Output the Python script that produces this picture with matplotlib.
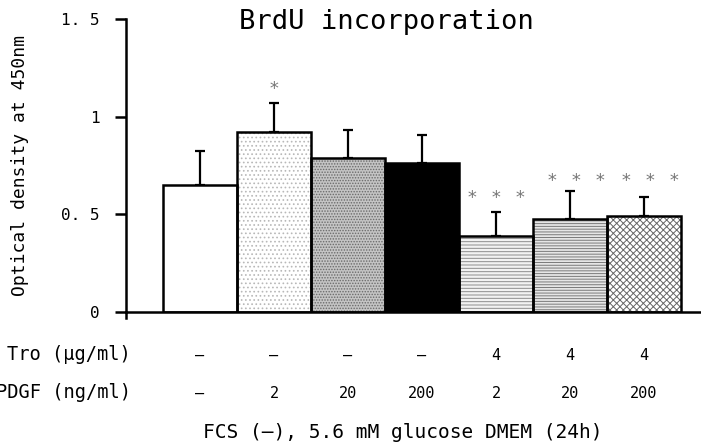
import matplotlib
matplotlib.use("Agg")
import matplotlib.pyplot as plt
import matplotlib.transforms as mtrans
import numpy as np

# data
groups = ['ctrl', 'P2', 'P20', 'P200', 'T4P2', 'T4P20', 'T4P200']
od_mean = [0.65, 0.92, 0.79, 0.765, 0.39, 0.475, 0.49]
od_sd = [0.175, 0.15, 0.14, 0.14, 0.12, 0.145, 0.10]
n_stars = [0, 1, 0, 0, 3, 3, 3]
tro_labels = ['\u2013', '\u2013', '\u2013', '\u2013', '4', '4', '4']
pdgf_labels = ['\u2013', '2', '20', '200', '2', '20', '200']
yticks = [0, 0.5, 1, 1.5]
ytick_labels = ['0', '0. 5', '1', '1. 5']

plt.rcParams['font.family'] = ['DejaVu Sans Mono', 'DejaVu Sans']
plt.rcParams['hatch.linewidth'] = 0.7

fig = plt.figure(figsize=(7.01, 4.47), dpi=100)
ax = fig.add_axes([126/701, 135/447, 575/701, 293/447])

# fill + hatch style per bar (face, hatch, hatch colour)
styles = [('white', None, 'black'),
          ('white', '....', '#b8b8b8'),
          ('#c4c4c4', '......', '#6a6a6a'),
          ('black', None, 'black'),
          ('#f2f2f2', '-----', '#8c8c8c'),
          ('#e6e6e6', '------', '#7a7a7a'),
          ('white', 'xxxxx', '#666666')]

x = np.arange(len(groups))
for i in range(len(groups)):
    face, hatch, hc = styles[i]
    ax.bar(x[i], od_mean[i], width=1.0, color=face, hatch=hatch,
           edgecolor=hc, linewidth=0, zorder=2)
    ax.bar(x[i], od_mean[i], width=1.0, fill=False, edgecolor='black',
           linewidth=1.8, zorder=3)

ax.errorbar(x, od_mean, yerr=[np.zeros(len(od_sd)), od_sd], fmt='none',
            ecolor='black', elinewidth=1.6, capsize=3.5, capthick=1.6, zorder=1)

# significance stars
for i, n in enumerate(n_stars):
    top = od_mean[i] + od_sd[i]
    if n == 1:
        ax.text(x[i], top + 0.07, '*', ha='center', va='center',
                fontsize=13, color='#777777')
    elif n == 3:
        yy = 0.585 if i == 4 else 0.672
        off = 0.0 if i == 4 else 0.08
        for d in (-0.32, 0.0, 0.32):
            ax.text(x[i] + d + off, yy, '*', ha='center', va='center',
                    fontsize=13, color='#777777')

ax.set_xlim(-1.0, 6.77)
ax.set_ylim(0, 1.5)
ax.set_yticks(yticks)
ax.set_yticklabels(ytick_labels, fontsize=11.5)
ax.tick_params(axis='y', direction='out', length=8, width=1.8, pad=11)
ax.set_xticks([])
for s in ['top', 'right']:
    ax.spines[s].set_visible(False)
ax.spines['left'].set_linewidth(1.8)
ax.spines['bottom'].set_linewidth(1.8)
ax.plot([-1.0, -1.0], [0, -0.03], color='black', lw=1.8, clip_on=False)

ax.set_ylabel('Optical density at 450nm', fontsize=13)
ax.yaxis.set_label_coords(-0.168, 0.5)

fig.text(386/701, (447-22)/447, 'BrdU incorporation', ha='center', va='center',
         fontsize=19.5)

# condition rows under the axis
fig.text(131/701, (447-355)/447, 'Tro (\u03bcg/ml)', ha='right', va='center', fontsize=13.5)
fig.text(131/701, (447-393)/447, 'PDGF (ng/ml)', ha='right', va='center', fontsize=13.5)
row_tr = mtrans.blended_transform_factory(ax.transData, fig.transFigure)
for i in range(len(groups)):
    ax.text(x[i], (447-355)/447, tro_labels[i], transform=row_tr,
            ha='center', va='center', fontsize=11)
    ax.text(x[i], (447-393)/447, pdgf_labels[i], transform=row_tr,
            ha='center', va='center', fontsize=11)

fig.text(403/701, (447-433)/447, 'FCS (\u2013), 5.6 mM glucose DMEM (24h)',
         ha='center', va='center', fontsize=14)

fig.savefig('out.png', dpi=100)
